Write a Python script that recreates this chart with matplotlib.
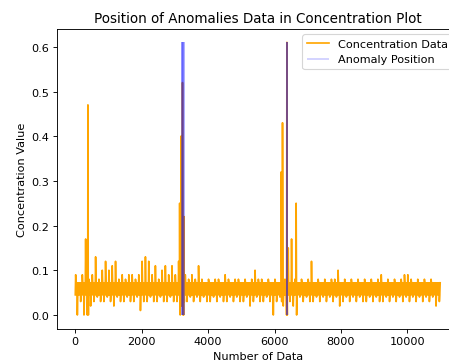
import numpy as np
import matplotlib
matplotlib.use('Agg')
import matplotlib.pyplot as plt

# concentration envelope per block of 100 samples (low / high value)
block_size = 100
band_lo, band_hi = 0.045, 0.072   # dense core of the signal
block_lo = [0.00, 0.03, 0.00, 0.00, 0.02, 0.03, 0.04, 0.03, 0.03, 0.04,
            0.03, 0.02, 0.04, 0.03, 0.03, 0.04, 0.03, 0.03, 0.04, 0.01,
            0.03, 0.03, 0.04, 0.03, 0.03, 0.04, 0.03, 0.03, 0.04, 0.03,
            0.03, 0.02, 0.00, 0.03, 0.04, 0.03, 0.04, 0.03, 0.04, 0.03,
            0.03, 0.04, 0.03, 0.04, 0.03, 0.03, 0.04, 0.03, 0.04, 0.03,
            0.03, 0.04, 0.02, 0.03, 0.04, 0.03, 0.03, 0.04, 0.03, 0.00,
            0.03, 0.04, 0.02, 0.00, 0.03, 0.02, 0.00, 0.04, 0.03, 0.04,
            0.03, 0.03, 0.04, 0.03, 0.04, 0.03, 0.04, 0.03, 0.04, 0.02,
            0.03, 0.04, 0.03, 0.04, 0.03, 0.04, 0.03, 0.03, 0.04, 0.03,
            0.04, 0.03, 0.03, 0.04, 0.03, 0.04, 0.03, 0.04, 0.03, 0.04,
            0.03, 0.04, 0.03, 0.04, 0.03, 0.04, 0.03, 0.04, 0.02, 0.03]
block_hi = [0.09, 0.07, 0.09, 0.17, 0.08, 0.09, 0.13, 0.08, 0.10, 0.12,
            0.10, 0.11, 0.12, 0.08, 0.09, 0.08, 0.09, 0.09, 0.08, 0.09,
            0.12, 0.13, 0.12, 0.09, 0.11, 0.08, 0.10, 0.11, 0.09, 0.11,
            0.09, 0.12, 0.09, 0.09, 0.08, 0.09, 0.08, 0.11, 0.08, 0.07,
            0.08, 0.07, 0.08, 0.08, 0.07, 0.09, 0.08, 0.07, 0.08, 0.08,
            0.07, 0.08, 0.07, 0.08, 0.10, 0.08, 0.08, 0.07, 0.08, 0.07,
            0.08, 0.07, 0.08, 0.08, 0.15, 0.17, 0.08, 0.07, 0.08, 0.07,
            0.08, 0.12, 0.07, 0.08, 0.07, 0.08, 0.07, 0.08, 0.08, 0.10,
            0.07, 0.08, 0.07, 0.08, 0.07, 0.08, 0.07, 0.08, 0.07, 0.08,
            0.07, 0.08, 0.09, 0.07, 0.08, 0.07, 0.08, 0.07, 0.08, 0.09,
            0.09, 0.08, 0.07, 0.08, 0.07, 0.08, 0.07, 0.08, 0.07, 0.07]

# isolated spikes (sample index, value)
spike_idx = [381, 395, 3143, 3160, 3183, 3200, 3228, 3245, 3273, 3285,
             6200, 6215, 6240, 6255, 6372, 6385, 6650, 6665]
spike_val = [0.47, 0.00, 0.25, 0.00, 0.40, 0.02, 0.52, 0.00, 0.22, 0.03,
             0.32, 0.03, 0.43, 0.04, 0.61, 0.00, 0.25, 0.00]

# anomaly positions
anomalies = [3200, 3212, 3224, 3236, 3248, 3260, 3272,
             6368, 6370, 6372, 6374]

# each block runs through the core several times, with one excursion up and one down
n_blocks = len(block_lo)
starts = np.arange(n_blocks) * block_size
lo_c = np.full(n_blocks, band_lo)
hi_c = np.full(n_blocks, band_hi)
x_env = (starts[:, None] + np.arange(8) * block_size / 8).ravel()
y_env = np.column_stack([lo_c, block_hi, hi_c, lo_c,
                         hi_c, block_lo, lo_c, hi_c]).ravel()
x_all = np.concatenate([x_env, spike_idx])
y_all = np.concatenate([y_env, spike_val])
order = np.argsort(x_all, kind='stable')
x_all = x_all[order]
y_all = y_all[order]

dpi = 81
fig = plt.figure(figsize=(449 / dpi, 365 / dpi), dpi=dpi)
ax = fig.add_axes([0.127, 0.097, 0.894, 0.8216])
ax.plot(x_all, y_all, color='orange', label='Concentration Data')
ax.vlines(anomalies, ymin=y_all.min(), ymax=y_all.max(), colors='blue',
          alpha=0.2, label='Anomaly Position')
ax.set_title('Position of Anomalies Data in Concentration Plot')
ax.set_xlabel('Number of Data')
ax.set_ylabel('Concentration Value')
ax.legend(loc='upper right')
fig.savefig('out.png', dpi=dpi)
